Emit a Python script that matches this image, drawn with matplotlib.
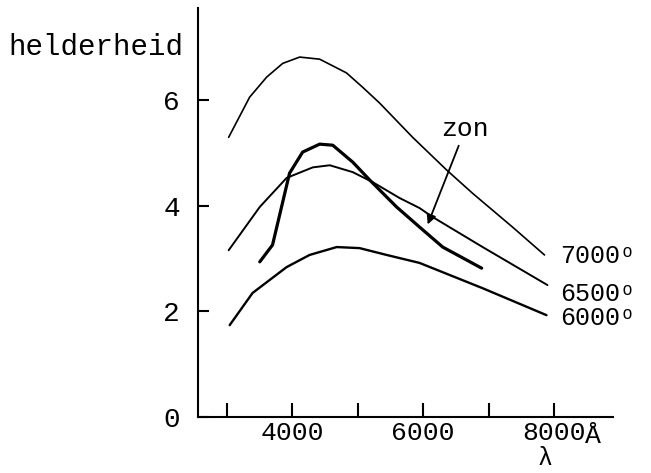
import matplotlib

matplotlib.use("Agg")
import matplotlib.pyplot as plt

# golflengte (Angstrom) en helderheid
lam_7000 = [3030, 3350, 3610, 3855, 4115, 4420, 4830, 5075, 5335, 5840, 6360, 6755, 7365, 7855]
hel_7000 = [5.30, 6.06, 6.44, 6.70, 6.82, 6.78, 6.52, 6.25, 5.95, 5.30, 4.68, 4.24, 3.60, 3.07]

lam_6500 = [3030, 3505, 3915, 4315, 4575, 4925, 5230, 5640, 5945, 6145, 6910, 7900]
hel_6500 = [3.16, 3.98, 4.53, 4.73, 4.77, 4.64, 4.45, 4.15, 3.96, 3.79, 3.22, 2.50]

lam_6000 = [3045, 3395, 3915, 4265, 4680, 5030, 5445, 5945, 6910, 7885]
hel_6000 = [1.74, 2.35, 2.84, 3.07, 3.22, 3.20, 3.07, 2.92, 2.44, 1.93]

lam_zon = [3505, 3700, 3960, 4160, 4420, 4620, 4925, 5185, 5595, 5945, 6300, 6895]
hel_zon = [2.94, 3.26, 4.62, 5.02, 5.17, 5.15, 4.83, 4.49, 3.98, 3.60, 3.22, 2.82]

xticks = [3000, 4000, 5000, 6000, 7000, 8000]
xticklabels = ["", "4000", "", "6000", "", "8000"]
yticks = [0, 2, 4, 6]
yticklabels = ["0", "2", "4", "6"]

FONT = "Liberation Mono"
plt.rcParams["font.family"] = [FONT, "DejaVu Sans"]

fig = plt.figure(figsize=(6.51, 4.73), dpi=100)
ax = fig.add_axes([0.304, 0.1184, 0.6375, 0.8647])
ax.set_xlim(2560, 8900)
ax.set_ylim(0, 7.75)

style = dict(color="black", solid_joinstyle="round", solid_capstyle="round")
ax.plot(lam_7000, hel_7000, lw=1.2, **style)
ax.plot(lam_6500, hel_6500, lw=1.4, **style)
ax.plot(lam_6000, hel_6000, lw=1.7, **style)
ax.plot(lam_zon, hel_zon, lw=2.3, **style)

for s in ("top", "right"):
    ax.spines[s].set_visible(False)
for s in ("left", "bottom"):
    ax.spines[s].set_linewidth(1.5)

ax.set_xticks(xticks)
ax.set_xticklabels(xticklabels, fontsize=19)
ax.set_yticks(yticks)
ax.set_yticklabels(yticklabels, fontsize=20)
ax.tick_params(axis="x", direction="in", length=10, width=1.5, pad=3)
ax.tick_params(axis="y", direction="in", length=8, width=1.5, pad=13)

for txt, y in [("7000ᵒ", 3.05), ("6500ᵒ", 2.33), ("6000ᵒ", 1.87)]:
    ax.text(8100, y, txt, fontsize=18, va="center", ha="left")

ax.annotate("", xy=(6055, 3.6), xytext=(6560, 5.19),
            arrowprops=dict(arrowstyle="-|>", color="black", lw=1.3,
                            mutation_scale=14))
ax.text(6640, 5.45, "zon", fontsize=19, ha="center", va="center")

fig.text(8 / 651, 1 - 47 / 473, "helderheid", fontsize=21, ha="left", va="center")
fig.text(593 / 651, 1 - 436 / 473, "Å", fontsize=19, ha="center", va="center")
fig.text(545 / 651, 1 - 458 / 473, "λ", fontsize=18, ha="center", va="center")

fig.savefig("out.png", dpi=100)
